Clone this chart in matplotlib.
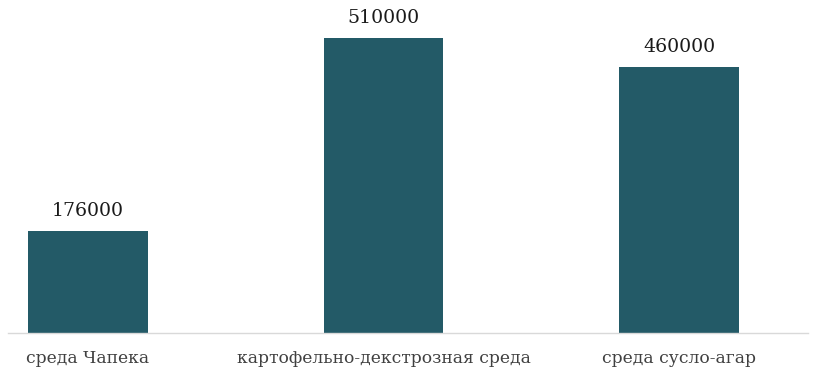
import matplotlib
matplotlib.use("Agg")
import matplotlib.pyplot as plt

categories = ["среда Чапека", "картофельно-декстрозная среда", "среда сусло-агар"]
values = [176000, 510000, 460000]

W, H = 814, 374
fig = plt.figure(figsize=(W/100, H/100), dpi=100)
ax = fig.add_axes([8/W, (H-333)/H, 800/W, 328/H])

color = "#235a67"
x = list(range(len(categories)))
ax.bar(x, values, width=0.403, color=color, zorder=2)

ax.set_xlim((8-88)/295.5, (808-88)/295.5)
ax.set_ylim(0, 510000*328/295)

for xi, v in zip(x, values):
    ax.annotate(f"{v}", (xi, v), xytext=(0, 8), textcoords="offset points",
                ha="center", va="bottom", fontsize=13.6, family="DejaVu Serif",
                color="#1a1a1a")

ax.set_xticks(x)
ax.set_xticklabels(categories, fontsize=12.3, family="DejaVu Serif", color="#404040")
ax.tick_params(axis="x", length=0, pad=12.5)
ax.set_yticks([])
for s in ["top", "right", "left"]:
    ax.spines[s].set_visible(False)
ax.spines["bottom"].set_color("#d9d9d9")
ax.spines["bottom"].set_linewidth(1)

fig.savefig("out.png", dpi=100)
